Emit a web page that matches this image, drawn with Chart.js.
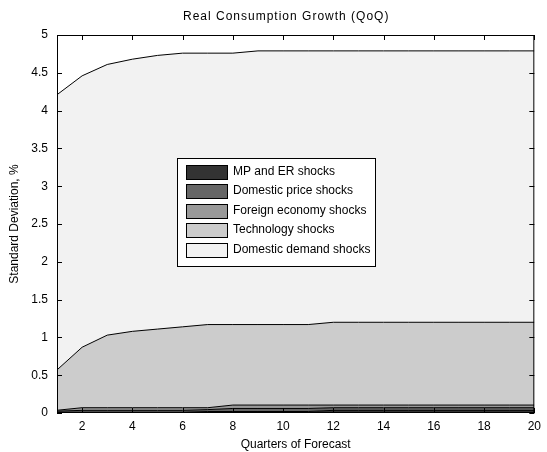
<!DOCTYPE html>
<html>
<head>
<meta charset="utf-8">
<script src="https://cdn.jsdelivr.net/npm/chart.js@4/dist/chart.umd.min.js"></script>
<style>
  html, body { margin: 0; padding: 0; background: #fff; }
  #wrap { width: 547px; height: 452px; }
</style>
</head>
<body>
<div id="wrap"><canvas id="c" width="547" height="452"></canvas></div>
<script>
// Forecast horizon (quarters) and tick positions
const quarters = [1,2,3,4,5,6,7,8,9,10,11,12,13,14,15,16,17,18,19,20];
const xTickValues = [2,4,6,8,10,12,14,16,18,20];
const yTickValues = [0,0.5,1,1.5,2,2.5,3,3.5,4,4.5,5];

// Contribution of each shock group to the forecast standard deviation (stacked)
const mpErShocks          = [0.010,0.010,0.010,0.010,0.010,0.010,0.020,0.020,0.020,0.020,0.020,0.035,0.035,0.035,0.035,0.035,0.035,0.035,0.035,0.035];
const domesticPriceShocks = [0.015,0.025,0.025,0.025,0.025,0.025,0.025,0.040,0.040,0.040,0.040,0.035,0.035,0.035,0.035,0.035,0.035,0.035,0.035,0.035];
const foreignEconomyShocks= [0.011,0.035,0.035,0.035,0.035,0.035,0.025,0.045,0.045,0.045,0.045,0.035,0.035,0.035,0.035,0.035,0.035,0.035,0.035,0.035];
const technologyShocks    = [0.534,0.800,0.960,1.010,1.040,1.070,1.100,1.065,1.065,1.065,1.065,1.095,1.095,1.095,1.095,1.095,1.095,1.095,1.095,1.095];
const domesticDemandShocks= [3.640,3.590,3.580,3.600,3.620,3.620,3.590,3.590,3.620,3.620,3.620,3.590,3.590,3.590,3.590,3.590,3.590,3.590,3.590,3.590];

const seriesNames  = ['MP and ER shocks','Domestic price shocks','Foreign economy shocks','Technology shocks','Domestic demand shocks'];
const seriesData   = [mpErShocks, domesticPriceShocks, foreignEconomyShocks, technologyShocks, domesticDemandShocks];
const seriesColors = ['#333333','#666666','#999999','#cccccc','#f2f2f2'];

const FONT = '"Liberation Sans", Arial, sans-serif';

const datasets = seriesData.map((vals, i) => ({
  label: seriesNames[i],
  data: quarters.map((q, k) => ({ x: q, y: vals[k] })),
  backgroundColor: seriesColors[i],
  borderColor: '#000000',
  borderWidth: 1,
  pointRadius: 0,
  tension: 0,
  fill: i === 0 ? 'origin' : '-1'
}));

// Title, boxed frame with inward ticks, and the in-plot legend
const decorations = {
  id: 'decorations',
  afterDraw(chart) {
    const { ctx, chartArea: a, scales: { x, y } } = chart;
    ctx.save();
    // title
    ctx.fillStyle = '#000';
    ctx.font = '12px ' + FONT;
    ctx.letterSpacing = '1px';
    ctx.textAlign = 'left';
    ctx.textBaseline = 'middle';
    ctx.fillText('Real Consumption Growth (QoQ)', 183, 17);
    ctx.letterSpacing = '0px';

    // frame
    ctx.strokeStyle = '#000';
    ctx.lineWidth = 1;
    ctx.strokeRect(a.left + 0.5, a.top + 0.5, a.right - a.left - 1, a.bottom - a.top - 1);

    // inward ticks
    const tl = 5;
    ctx.beginPath();
    xTickValues.forEach(v => {
      const px = Math.round(x.getPixelForValue(v)) + 0.5;
      ctx.moveTo(px, a.bottom); ctx.lineTo(px, a.bottom - tl);
      ctx.moveTo(px, a.top); ctx.lineTo(px, a.top + tl);
    });
    yTickValues.forEach(v => {
      const py = Math.round(y.getPixelForValue(v)) + 0.5;
      ctx.moveTo(a.left, py); ctx.lineTo(a.left + tl, py);
      ctx.moveTo(a.right, py); ctx.lineTo(a.right - tl, py);
    });
    ctx.stroke();

    // legend
    const lx = a.left + 120, ly = a.top + 123, lw = 198, lh = 108;
    ctx.fillStyle = '#fff';
    ctx.fillRect(lx, ly, lw, lh);
    ctx.strokeRect(lx + 0.5, ly + 0.5, lw, lh);
    ctx.font = '12px ' + FONT;
    chart.data.datasets.forEach((ds, i) => {
      const cy = ly + 13.5 + i * 19.5;
      ctx.fillStyle = ds.backgroundColor;
      ctx.fillRect(lx + 9.5, Math.round(cy - 7) + 0.5, 41, 14);
      ctx.strokeRect(lx + 9.5, Math.round(cy - 7) + 0.5, 41, 14);
      ctx.fillStyle = '#000';
      ctx.fillText(ds.label, lx + 56, cy);
    });
    ctx.restore();
  }
};

new Chart(document.getElementById('c'), {
  type: 'line',
  data: { datasets },
  options: {
    responsive: false,
    animation: false,
    layout: { padding: { top: 35, right: 7, left: 0, bottom: 0 } },
    plugins: {
      legend: { display: false },
      tooltip: { enabled: false },
      filler: { propagate: false }
    },
    scales: {
      x: {
        type: 'linear',
        min: 1, max: 20,
        grid: { display: false, drawTicks: false },
        border: { display: false },
        afterBuildTicks: s => { s.ticks = xTickValues.map(v => ({ value: v })); },
        afterFit: s => { s.height = 39; },
        ticks: { color: '#000', font: { family: FONT, size: 12 }, padding: 6, maxRotation: 0, autoSkip: false },
        title: { display: true, text: 'Quarters of Forecast', color: '#000', font: { family: FONT, size: 12 }, padding: { top: 2, bottom: 0 } }
      },
      y: {
        stacked: true,
        min: 0, max: 5,
        grid: { display: false, drawTicks: false },
        border: { display: false },
        afterBuildTicks: s => { s.ticks = yTickValues.map(v => ({ value: v })); },
        afterFit: s => { s.width = 57; },
        ticks: { color: '#000', font: { family: FONT, size: 12 }, padding: 9, autoSkip: false, callback: v => String(v) },
        title: { display: true, text: 'Standard Deviation, %', color: '#000', font: { family: FONT, size: 12 }, padding: { top: 7, bottom: 0 } }
      }
    }
  },
  plugins: [decorations]
});
</script>
</body>
</html>
